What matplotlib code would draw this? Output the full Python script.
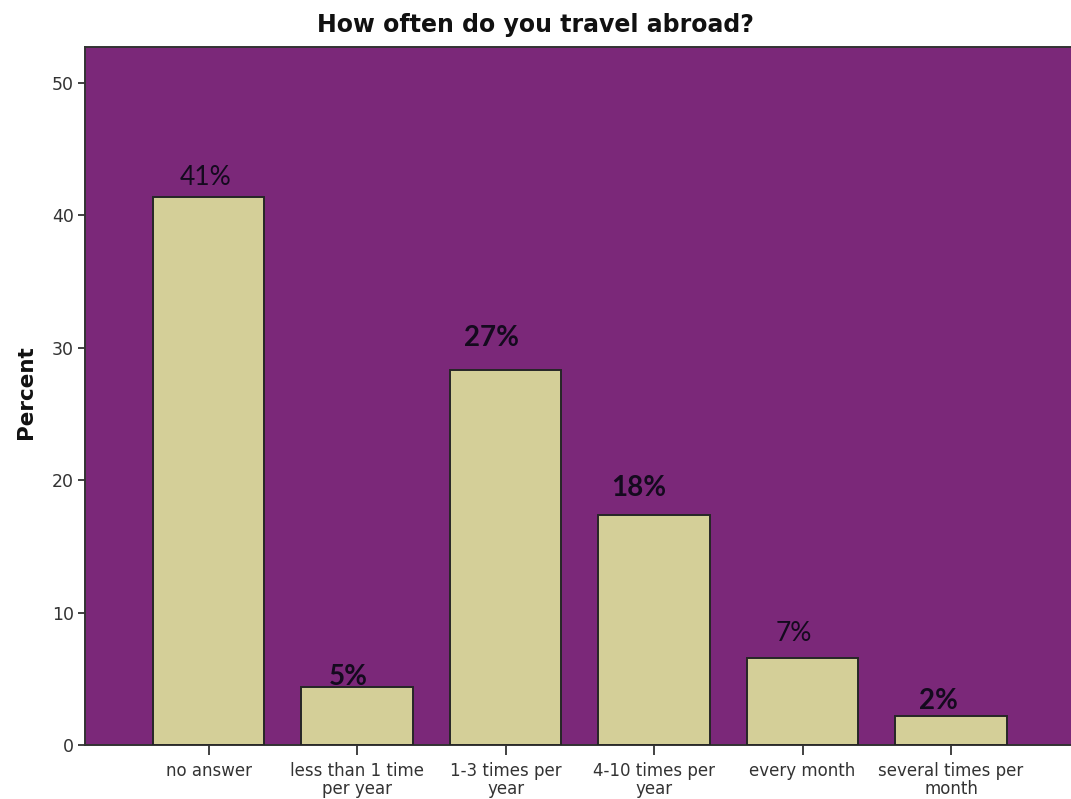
import matplotlib
matplotlib.use("Agg")
import matplotlib.pyplot as plt

categories = ["no answer", "less than 1 time\nper year", "1-3 times per\nyear",
              "4-10 times per\nyear", "every month", "several times per\nmonth"]
percent = [41.4, 4.4, 28.3, 17.4, 6.6, 2.2]
bar_labels = ["41%", "5%", "27%", "18%", "7%", "2%"]
label_bold = [False, True, True, True, False, True]
# label placement (offset in points from bar top centre) - layout only
label_dx = [-2, -6, -10, -11, -6, -9]
label_dy = [5, -2, 14, 10, 8, 1]

fig = plt.figure(figsize=(10.71, 7.99), dpi=100)
ax = fig.add_axes([85/1071, 1-745/799, 1-85/1071 + 0.01, (745-47)/799])
ax.set_facecolor("#7B2879")

x = list(range(len(categories)))
ax.bar(x, percent, width=0.75, color="#D4CF98", edgecolor="#262626", linewidth=1.4, zorder=3)

for xi, v, lab, b, dx, dy in zip(x, percent, bar_labels, label_bold, label_dx, label_dy):
    ax.annotate(lab, (xi, v), xytext=(dx, dy), textcoords="offset points",
                ha="center", va="bottom", fontsize=20 if b else 19, family="Lato",
                fontweight="bold" if b else "normal", color="#140a1e", zorder=4)

ax.set_xlim(-0.832, 5.88)
ax.set_ylim(0, 52.7)
ax.set_yticks([0, 10, 20, 30, 40, 50])
ax.set_xticks(x)
ax.set_xticklabels(categories, family="DejaVu Sans", fontsize=12, color="#333333",
                   linespacing=1.05)
for t in ax.get_yticklabels():
    t.set_family("DejaVu Sans")
    t.set_fontsize(12.5)
    t.set_color("#333333")
ax.tick_params(axis="y", direction="out", length=5, width=1.3, color="#333333", pad=3)
ax.tick_params(axis="x", direction="out", length=7, width=1.3, color="#333333", pad=5)

for s in ["left", "bottom", "top"]:
    ax.spines[s].set_color("#333333")
    ax.spines[s].set_linewidth(1.4)
ax.spines["right"].set_visible(False)

ax.set_ylabel("Percent", family="DejaVu Sans", fontweight="bold", fontsize=15.5,
              color="#111111")
ax.yaxis.set_label_coords(-0.049, 0.506)

fig.text(0.5, 1-25/799, "How often do you travel abroad?", ha="center", va="center",
         family="DejaVu Sans", fontweight="bold", fontsize=17, color="#111111")

fig.savefig("out.png", dpi=100, facecolor="white")
